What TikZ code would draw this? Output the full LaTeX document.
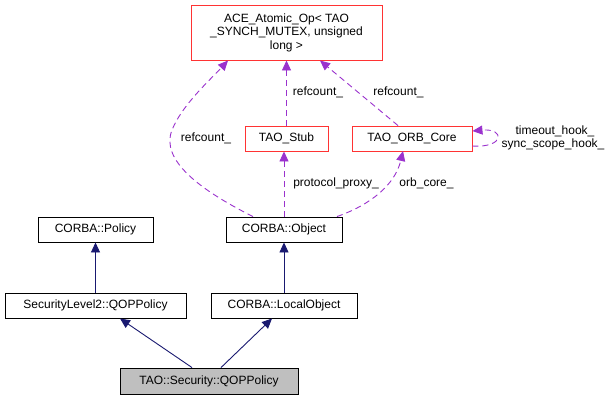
\documentclass[tikz,border=0pt]{standalone}
\usepackage{fontspec}
\setmainfont{Liberation Sans}
\usetikzlibrary{arrows.meta}
\definecolor{navy}{HTML}{191970}
\definecolor{purp}{HTML}{9A32CD}
\definecolor{redb}{HTML}{FF0000}
\begin{document}
\begin{tikzpicture}[x=1pt,y=-1pt,
  every node/.style={font=\fontsize{12}{13.5}\selectfont},
  cls/.style={draw=black,line width=0.9pt,inner sep=0pt,minimum height=25pt,fill=white},
  redcls/.style={cls,draw=redb!80!white},
  inh/.style={draw=navy,line width=0.9pt,-{Triangle[length=10pt,width=9pt]}},
  use/.style={draw=purp,line width=0.9pt,dash pattern=on 6pt off 4pt,-{Triangle[length=10pt,width=9pt]}},
  lbl/.style={inner sep=0pt}]
\useasboundingbox (0,0) rectangle (615,400);
\node[redcls,minimum width=191pt,minimum height=55pt,align=center] (ace) at (286.5,32.5) {ACE\_Atomic\_Op< TAO\\\_SYNCH\_MUTEX, unsigned\\long >};
\node[redcls,minimum width=83pt] (stub) at (286.5,138.5) {TAO\_Stub};
\node[redcls,minimum width=120pt] (orb) at (412,138.5) {TAO\_ORB\_Core};
\node[cls,minimum width=116pt] (obj) at (284,229.5) {CORBA::Object};
\node[cls,minimum width=115pt] (pol) at (95.5,229.5) {CORBA::Policy};
\node[cls,minimum width=181pt] (sl2) at (95.5,305.5) {SecurityLevel2::QOPPolicy};
\node[cls,minimum width=146pt] (loc) at (284,305.5) {CORBA::LocalObject};
\node[cls,fill=black!25,minimum width=178pt,minimum height=26pt] (qop) at (209,381) {TAO::Security::QOPPolicy};
% inheritance
\draw[inh] (sl2.north -| pol.south) -- (pol.south);
\draw[inh] (loc.north -| obj.south) -- (obj.south);
\draw[inh] (qop.north -| 192,0) -- (120,318.5);
\draw[inh] (qop.north -| 221,0) -- (272,318.5);
% usage
\draw[use] (obj.north -| 253,0) .. controls (200,190) and (160,160) .. (172,130) .. controls (182,105) and (210,80) .. (228,60.5);
\draw[use] (stub.north) -- (stub.north |- ace.south);
\draw[use] (orb.north -| 398,0) -- (320,60.5);
\draw[use] (obj.north) -- (obj.north |- stub.south);
\draw[use] (obj.north -| 337,0) .. controls (370,205) and (395,185) .. (403,151);
\draw[use] (orb.east |- 0,146) .. controls (505,148) and (505,128) .. (orb.east |- 0,131);
% labels
\node[lbl] (l1) at (206,138) {refcount\_};
\node[lbl] (l2) at (318,92) {refcount\_};
\node[lbl] (l3) at (398.5,92) {refcount\_};
\node[lbl] (l4) at (336,183) {protocol\_proxy\_};
\node[lbl] (l5) at (426.5,183) {orb\_core\_};
\node[lbl] (l6) at (555,131) {timeout\_hook\_};
\node[lbl] (l7) at (553,144) {sync\_scope\_hook\_};
\end{tikzpicture}
\end{document}
